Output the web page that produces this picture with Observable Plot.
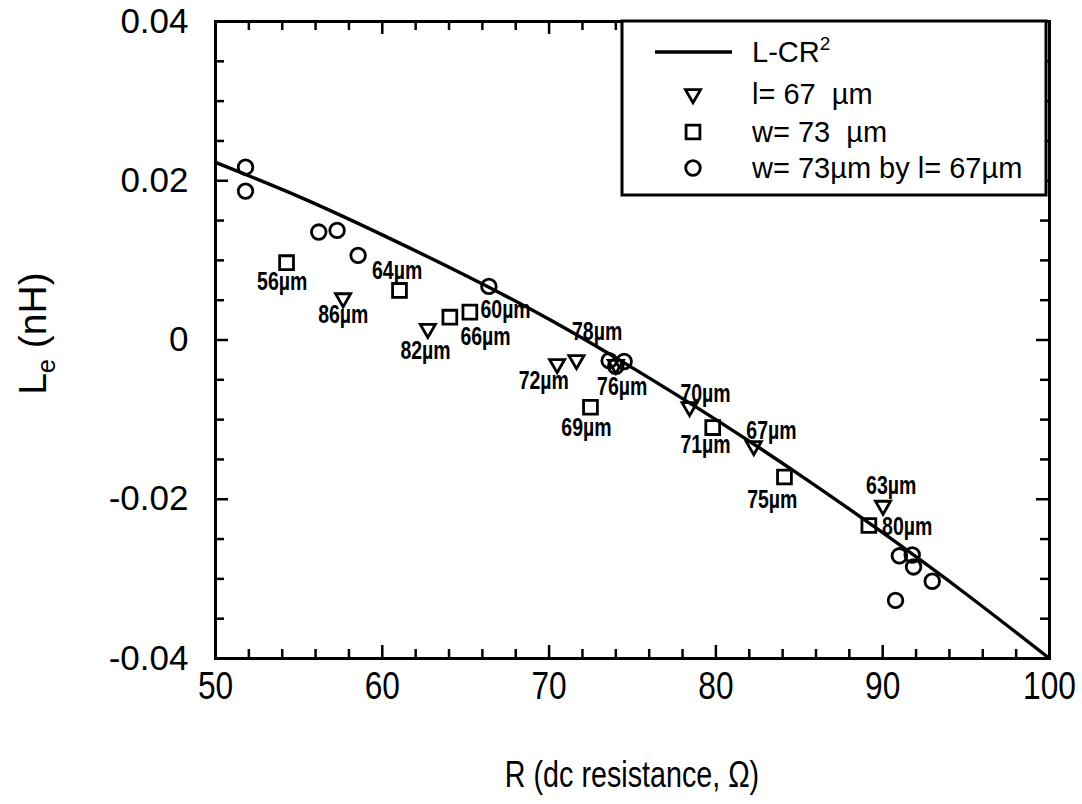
<!DOCTYPE html>
<html><head><meta charset="utf-8">
<script src="https://cdn.jsdelivr.net/npm/d3@7"></script>
<script src="https://cdn.jsdelivr.net/npm/@observablehq/plot@0.6"></script>
<style>
body{margin:0;background:#fff;}
#chart{width:1082px;height:804px;}
</style></head><body><div id="chart"></div>
<script>
// ---- data ----
const curveR = [50, 55, 60, 65, 70, 75, 80, 85, 90, 95, 100];
const curveL = [0.0223, 0.0180, 0.0132, 0.0081, 0.0026, -0.0035, -0.0100, -0.0169, -0.0242, -0.0319, -0.0400];

const triR = [57.65, 62.73, 70.48, 71.64, 74.0, 78.42, 82.27, 90.02];
const triL = [0.00526, 0.00141, -0.0030, -0.0025, -0.0031, -0.0084, -0.0133, -0.0208];

const sqR = [54.26, 61.03, 64.05, 65.25, 72.48, 79.81, 84.11, 89.17];
const sqL = [0.00971, 0.00623, 0.00287, 0.00350, -0.00845, -0.0110, -0.0172, -0.0233];

const circR = [51.8, 51.8, 56.19, 57.29, 58.55, 66.39, 73.6, 74.0, 74.5, 91.0, 91.77, 91.85, 92.97, 90.77];
const circL = [0.0217, 0.0187, 0.01356, 0.01377, 0.01063, 0.00673, -0.0026, -0.0033, -0.0027, -0.0271, -0.0270, -0.0285, -0.0303, -0.0327];

const labelText = ["56µm", "64µm", "86µm", "60µm", "66µm", "82µm", "78µm", "72µm", "76µm", "69µm", "70µm", "71µm", "67µm", "75µm", "63µm", "80µm"];
const labelR = [54.0, 60.89, 57.66, 67.39, 66.19, 62.59, 72.88, 69.68, 74.38, 72.24, 79.38, 79.38, 83.33, 83.38, 90.51, 91.47];
const labelL = [0.00727, 0.00865, 0.00308, 0.00371, 0.00035, -0.00132, 0.00098, -0.00518, -0.00585, -0.0110, -0.00677, -0.01314, -0.01138, -0.0201, -0.0183, -0.02346];

const xMajor = [50, 60, 70, 80, 90, 100];
const xMinor = [52, 54, 56, 58, 62, 64, 66, 68, 72, 74, 76, 78, 82, 84, 86, 88, 92, 94, 96, 98];
const yMajor = [-0.04, -0.02, 0, 0.02, 0.04];
const yTickLabels = ["-0.04", "-0.02", "0", "0.02", "0.04"];
const yMinor = [-0.035, -0.03, -0.025, -0.015, -0.01, -0.005, 0.005, 0.01, 0.015, 0.025, 0.03, 0.035];

const legendLabels = ["L-CR", "l= 67  µm", "w= 73  µm", "w= 73µm by l= 67µm"];
const xTitle = "R (dc resistance, Ω)";
const yTitleMain = "L", yTitleSub = "e", yTitleRest = " (nH)";

// ---- build ----
const zip = (a, b) => a.map((v, i) => ({r: v, l: b[i]}));
const curve = zip(curveR, curveL);
const tri = zip(triR, triL);
const sq = zip(sqR, sqL);
const circ = zip(circR, circL);
const labels = labelText.map((t, i) => ({t, r: labelR[i], l: labelL[i]}));

const W = 1082, H = 804, mL = 215, mR = 33, mT = 21, mB = 146;
const pw = W - mL - mR, ph = H - mT - mB;
const sans = "'Liberation Sans', Arial, Helvetica, sans-serif";
const symR = [0, 5.6, 7.8, 7.3];

const plot = Plot.plot({
  width: W, height: H,
  marginLeft: mL, marginRight: mR, marginTop: mT, marginBottom: mB,
  x: {domain: [50, 100]},
  y: {domain: [-0.04, 0.04]},
  style: {background: "white", color: "black", fontFamily: sans},
  marks: [
    Plot.axisX(xMajor, {tickSize: 0, tickPadding: 12, fontSize: 36, label: null, tickFormat: d => String(d)}),
    Plot.axisY(yMajor, {tickSize: 0, tickPadding: 27, fontSize: 35, label: null, tickFormat: d => yTickLabels[yMajor.indexOf(d)]}),
    // inward ticks, all four sides
    Plot.tickX(xMinor, {x: d => d, insetTop: ph - 9, strokeWidth: 2.5}),
    Plot.tickX(xMinor, {x: d => d, insetBottom: ph - 9, strokeWidth: 2.5}),
    Plot.tickX(xMajor, {x: d => d, insetTop: ph - 13, strokeWidth: 2.5}),
    Plot.tickX(xMajor, {x: d => d, insetBottom: ph - 13, strokeWidth: 2.5}),
    Plot.tickY(yMinor, {y: d => d, insetRight: pw - 9, strokeWidth: 2.5}),
    Plot.tickY(yMinor, {y: d => d, insetLeft: pw - 9, strokeWidth: 2.5}),
    Plot.tickY(yMajor, {y: d => d, insetRight: pw - 13, strokeWidth: 2.5}),
    Plot.tickY(yMajor, {y: d => d, insetLeft: pw - 13, strokeWidth: 2.5}),
    Plot.line(curve, {x: "r", y: "l", curve: "natural", strokeWidth: 3.4}),
    Plot.dot(tri, {x: "r", y: "l", symbol: "triangle", rotate: 180, r: symR[1], stroke: "black", strokeWidth: 2.8, fill: "none"}),
    Plot.dot(sq, {x: "r", y: "l", symbol: "square", r: symR[2], stroke: "black", strokeWidth: 2.8, fill: "none"}),
    Plot.dot(circ, {x: "r", y: "l", symbol: "circle", r: symR[3], stroke: "black", strokeWidth: 2.8, fill: "none"}),
    Plot.text(labels, {x: "r", y: "l", text: "t", fontSize: 25, fontWeight: "bold"}),
    Plot.frame({strokeWidth: 3})
  ]
});

const svg = d3.select(plot);
// condensed look for the narrow fonts of the original
svg.selectAll('g[aria-label="text"] text').attr("transform", function() {
  return (this.getAttribute("transform") || "") + " scale(0.78,1)";
});
svg.selectAll('g[aria-label="x-axis tick label"] text').attr("transform", function() {
  return (this.getAttribute("transform") || "") + " scale(0.88,1.1)";
});

// axis titles
svg.append("text")
  .attr("transform", `translate(${mL + pw / 2},787) scale(0.82,1.05)`)
  .attr("text-anchor", "middle")
  .attr("font-family", sans).attr("font-size", 35)
  .text(xTitle);
const yt = svg.append("text")
  .attr("transform", `translate(46,${mT + ph / 2 - 6}) rotate(-90)`)
  .attr("text-anchor", "middle")
  .attr("font-family", sans).attr("font-size", 39);
yt.append("tspan").text(yTitleMain);
yt.append("tspan").attr("font-size", 25).attr("dy", 9).text(yTitleSub);
yt.append("tspan").attr("dy", -9).text(yTitleRest);

// legend
const lg = svg.append("g");
lg.append("rect").attr("x", 622).attr("y", 21).attr("width", 424).attr("height", 174)
  .attr("fill", "white").attr("stroke", "black").attr("stroke-width", 3);
const rowY = [52, 94, 132, 168];
lg.append("line").attr("x1", 655).attr("x2", 732).attr("y1", rowY[0]).attr("y2", rowY[0])
  .attr("stroke", "black").attr("stroke-width", 3.4);
const sym = [null, d3.symbolTriangle, d3.symbolSquare, d3.symbolCircle];
for (let i = 1; i < 4; i++) {
  lg.append("path")
    .attr("d", d3.symbol(sym[i], symR[i] * symR[i] * Math.PI)())
    .attr("transform", `translate(693,${rowY[i]})` + (i === 1 ? " rotate(180)" : ""))
    .attr("fill", "none").attr("stroke", "black").attr("stroke-width", 2.8);
}
legendLabels.forEach((t, i) => {
  const tx = lg.append("text").attr("x", 752).attr("y", rowY[i] + 10)
    .attr("text-anchor", "start")
    .attr("font-family", sans).attr("font-size", 29)
    .attr("xml:space", "preserve")
    .style("white-space", "pre").text(t);
  if (i === 0) tx.append("tspan").attr("dy", -12).attr("font-size", 19).text("2");
});

document.getElementById("chart").appendChild(plot);
</script>
</body></html>
